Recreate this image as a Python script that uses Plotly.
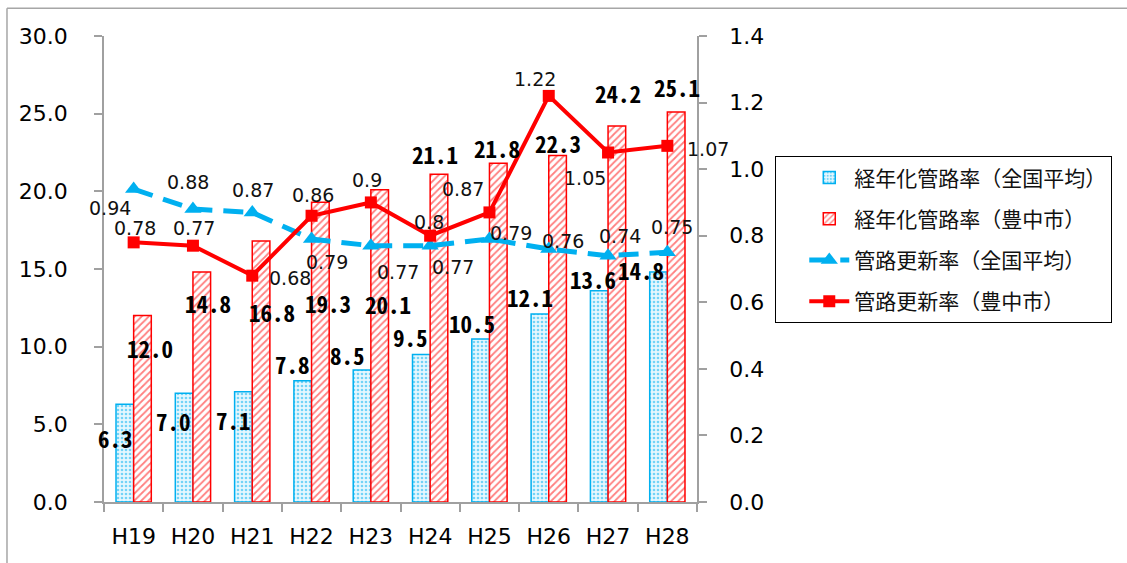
import plotly.graph_objects as go

# Fiscal years (Heisei era)
years = ["H19", "H20", "H21", "H22", "H23", "H24", "H25", "H26", "H27", "H28"]

# Share of aged pipelines (%), left axis
aging_national = [6.3, 7.0, 7.1, 7.8, 8.5, 9.5, 10.5, 12.1, 13.6, 14.8]
aging_toyonaka = [12.0, 14.8, 16.8, 19.3, 20.1, 21.1, 21.8, 22.3, 24.2, 25.1]

# Pipeline renewal rate (%), right axis
renewal_national = [0.94, 0.88, 0.87, 0.79, 0.77, 0.77, 0.79, 0.76, 0.74, 0.75]
renewal_toyonaka = [0.78, 0.77, 0.68, 0.86, 0.90, 0.80, 0.87, 1.22, 1.05, 1.07]

names = [
    "経年化管路率（全国平均）",
    "経年化管路率（豊中市）",
    "管路更新率（全国平均）",
    "管路更新率（豊中市）",
]

BLUE = "#00B0F0"
RED = "#FF0000"
AXIS_GRAY = "#A0A0A0"

# Pixel offsets of each value label from its mark (x right, y up)
off_aging_national = [(-18, -34), (-19, -28), (-19, -28), (-19, 17), (-23, 15),
                      (-20, 17), (-17, 16), (-19, 17), (-15, 12), (-26, 2)]
off_aging_toyonaka = [(16, -32), (15, -31), (20, -71), (16, -101), (17, -114),
                      (5, 20), (8, 15), (9, 13), (10, 33), (10, 25)]
off_renewal_national = [(-24, -19), (-5, 27), (1, 22), (15, -23), (27, -26),
                        (23, -21), (22, 6), (14, 8), (12, 20), (5, 25)]
off_renewal_toyonaka = [(1, 14), (1, 18), (38, -2), (1, 21), (-4, 22),
                        (-1, 14), (-26, 23), (-14, 17), (-23, -25), (41, -3)]

fig = go.Figure()

fig.add_trace(go.Bar(
    x=years, y=aging_national, name=names[0], legendgroup="a",
    marker=dict(
        color="#DDF4FD",
        line=dict(color=BLUE, width=1.5),
        pattern=dict(shape=".", fgcolor=BLUE, bgcolor="#E6F7FE", size=4, solidity=0.35),
    ),
))
fig.add_trace(go.Bar(
    x=years, y=aging_toyonaka, name=names[1], legendgroup="b",
    marker=dict(
        color="white",
        line=dict(color=RED, width=1.5),
        pattern=dict(shape="/", fgcolor=RED, bgcolor="white", size=5, solidity=0.35),
    ),
))
fig.add_trace(go.Scatter(
    x=years, y=renewal_national, name=names[2], legendgroup="c", yaxis="y2",
    mode="lines+markers",
    line=dict(color=BLUE, width=5, dash="20px,11px"),
    marker=dict(symbol="triangle-up", size=15, color=BLUE),
))
fig.add_trace(go.Scatter(
    x=years, y=renewal_toyonaka, name=names[3], legendgroup="d", yaxis="y2",
    mode="lines+markers",
    line=dict(color=RED, width=4),
    marker=dict(symbol="square", size=12, color=RED),
))

BAR_LABEL_FONT = dict(family="Noto Sans Mono CJK JP, DejaVu Sans Mono, monospace",
                      size=23, color="black", weight="bold")
LINE_LABEL_FONT = dict(family="DejaVu Sans, sans-serif", size=19, color="#111111")

annotations = []


def add_labels(values, offsets, yref, fmt, font):
    for cat, v, (dx, dy) in zip(years, values, offsets):
        annotations.append(dict(
            x=cat, y=v, xref="x", yref=yref, text=fmt(v), showarrow=False,
            xshift=dx, yshift=dy, xanchor="center", yanchor="middle", font=font,
        ))


add_labels(aging_national, off_aging_national, "y", lambda v: f"{v:.1f}", BAR_LABEL_FONT)
add_labels(aging_toyonaka, off_aging_toyonaka, "y", lambda v: f"{v:.1f}", BAR_LABEL_FONT)
add_labels(renewal_national, off_renewal_national, "y2", lambda v: f"{v:g}", LINE_LABEL_FONT)
add_labels(renewal_toyonaka, off_renewal_toyonaka, "y2", lambda v: f"{v:g}", LINE_LABEL_FONT)

TICK_FONT = dict(family="DejaVu Sans, sans-serif", size=22, color="black")

fig.update_layout(
    width=1127, height=563, autosize=False,
    margin=dict(l=104, r=430, t=36, b=61, pad=0),
    paper_bgcolor="white", plot_bgcolor="white",
    barmode="group", bargap=0.405, bargroupgap=0,
    showlegend=True,
    legend=dict(
        x=1.132, y=0.742, xanchor="left", yanchor="top",
        bordercolor="black", borderwidth=1, bgcolor="white",
        font=dict(family="Noto Sans CJK JP, sans-serif", size=21, color="#111111"),
        tracegroupgap=11, indentation=28, traceorder="grouped",
        itemwidth=40,
    ),
    xaxis=dict(
        type="category", range=[-0.5, 9.5], tickson="boundaries",
        ticks="outside", ticklen=8, tickcolor=AXIS_GRAY, tickwidth=1.5,
        showline=True, linecolor=AXIS_GRAY, linewidth=1.5,
        showgrid=False, tickfont=TICK_FONT, ticklabelstandoff=14,
    ),
    yaxis=dict(
        range=[0, 30], dtick=5, tickformat=".1f",
        ticks="outside", ticklen=8, tickcolor=AXIS_GRAY, tickwidth=1.5,
        showline=True, linecolor=AXIS_GRAY, linewidth=1.5,
        showgrid=False, zeroline=False, tickfont=TICK_FONT, ticklabelstandoff=22,
    ),
    yaxis2=dict(
        range=[0, 1.4], dtick=0.2, tickformat=".1f", overlaying="y", side="right",
        ticks="outside", ticklen=8, tickcolor=AXIS_GRAY, tickwidth=1.5,
        showline=True, linecolor=AXIS_GRAY, linewidth=1.5,
        showgrid=False, zeroline=False, tickfont=TICK_FONT, ticklabelstandoff=18,
    ),
    annotations=annotations,
    shapes=[
        # outer chart frame (top and left edges)
        dict(type="line", xref="paper", yref="paper", x0=-0.1636, x1=1.8,
             y0=1.0594, y1=1.0594, line=dict(color="#A6A6A6", width=1.5)),
        dict(type="line", xref="paper", yref="paper", x0=-0.1636, x1=-0.1636,
             y0=1.0594, y1=-0.2, line=dict(color="#A6A6A6", width=1.5)),
    ],
)

fig.write_html("out.html")
